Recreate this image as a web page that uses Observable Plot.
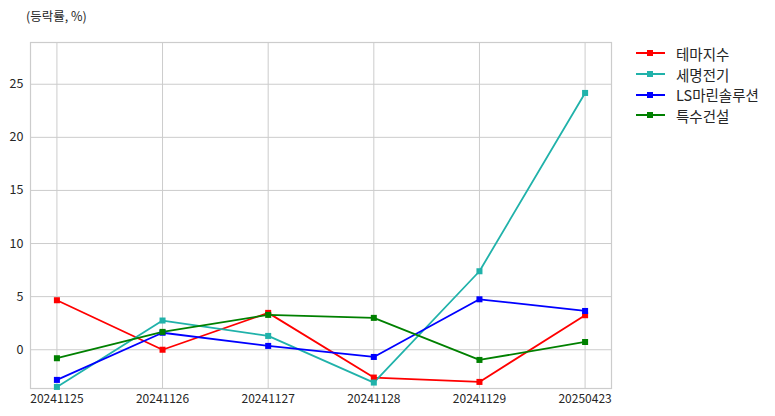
<!DOCTYPE html>
<html>
<head>
<meta charset="utf-8">
<script src="https://cdn.jsdelivr.net/npm/d3@7"></script>
<script src="https://cdn.jsdelivr.net/npm/@observablehq/plot@0.6"></script>
<style>
  body { margin: 0; background: #fff; }
  #wrap { position: relative; width: 775px; height: 416px; font-family: "Noto Sans CJK KR", "Noto Sans", sans-serif; }
  #title { position: absolute; left: 26px; top: 6px; font-size: 12.5px; color: #262626; }
  #legend { position: absolute; left: 636px; top: 43px; font-size: 14.5px; color: #262626; }
  .row { display: flex; align-items: center; height: 20.7px; }
  .sw { position: relative; width: 29px; height: 10px; margin-right: 11px; }
  .sw .ln { position: absolute; left: 0; right: 0; top: 4px; height: 2px; }
  .sw .mk { position: absolute; left: 11px; top: 2px; width: 6px; height: 6px; }
</style>
</head>
<body>
<div id="wrap">
  <div id="title">(등락률, %)</div>
  <div id="legend"></div>
  <div id="chart"></div>
</div>
<script>
const dates = ["20241125", "20241126", "20241127", "20241128", "20241129", "20250423"];
const seriesNames = ["테마지수", "세명전기", "LS마린솔루션", "특수건설"];
const seriesColors = ["#ff0000", "#20b2aa", "#0000ff", "#008000"];
const themeIndex = [4.66, 0.0, 3.47, -2.62, -3.03, 3.25];
const semyung = [-3.5, 2.75, 1.3, -3.09, 7.39, 24.18];
const lsMarine = [-2.84, 1.6, 0.36, -0.68, 4.75, 3.65];
const specialConst = [-0.8, 1.68, 3.28, 3.0, -0.96, 0.73];
const yTicks = [0, 5, 10, 15, 20, 25];

const allValues = [themeIndex, semyung, lsMarine, specialConst];
const data = [];
seriesNames.forEach((name, si) => {
  dates.forEach((d, i) => data.push({series: name, date: d, value: allValues[si][i]}));
});

const chart = Plot.plot({
  width: 775,
  height: 416,
  marginLeft: 30,
  marginRight: 164,
  marginTop: 42,
  marginBottom: 28,
  style: {fontFamily: '"Noto Sans CJK KR", "Noto Sans", sans-serif', fontSize: "12px", color: "#262626", background: "#fff"},
  x: {type: "point", domain: dates, padding: 0.25, round: false, label: null, tickSize: 0, tickPadding: 6},
  y: {domain: [-3.65, 28.93], ticks: yTicks, label: null, tickSize: 0, tickPadding: 7},
  color: {domain: seriesNames, range: seriesColors},
  marks: [
    Plot.gridX(dates, {stroke: "#cccccc", strokeOpacity: 1, strokeWidth: 1}),
    Plot.gridY(yTicks, {stroke: "#cccccc", strokeOpacity: 1, strokeWidth: 1}),
    Plot.frame({stroke: "#cccccc", strokeWidth: 1.2}),
    Plot.axisX({tickSize: 0, tickPadding: 6, fontSize: 12}),
    Plot.axisY(yTicks, {tickSize: 0, tickPadding: 7, fontSize: 12.5}),
    Plot.line(data, {x: "date", y: "value", z: "series", stroke: "series", strokeWidth: 1.8}),
    Plot.dot(data, {x: "date", y: "value", fill: "series", symbol: "square", r: 3.4, stroke: "none"})
  ]
});
document.getElementById("chart").appendChild(chart);

const legend = document.getElementById("legend");
seriesNames.forEach((name, i) => {
  const row = document.createElement("div");
  row.className = "row";
  row.innerHTML = `<div class="sw"><div class="ln" style="background:${seriesColors[i]}"></div><div class="mk" style="background:${seriesColors[i]}"></div></div><span>${name}</span>`;
  legend.appendChild(row);
});
</script>
</body>
</html>
